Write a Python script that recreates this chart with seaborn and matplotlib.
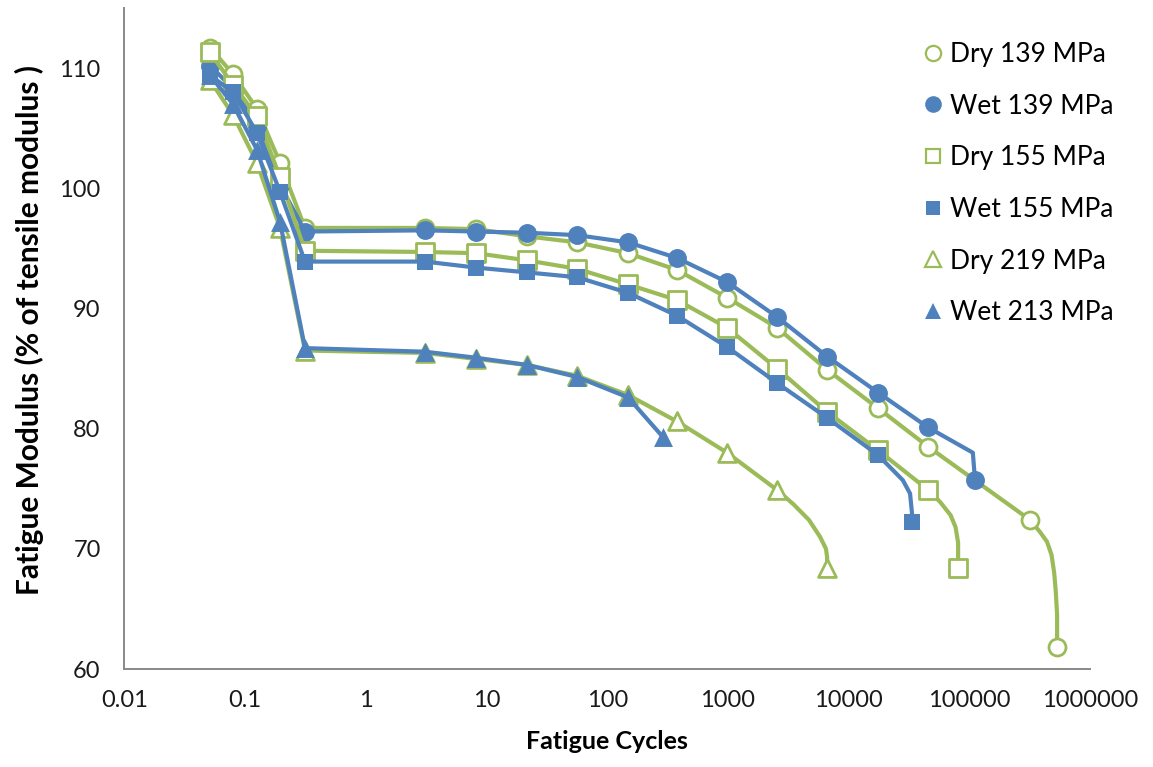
import matplotlib
matplotlib.use("Agg")
import matplotlib.pyplot as plt
import seaborn as sns
from matplotlib.lines import Line2D
from matplotlib.ticker import NullLocator, FixedLocator, FixedFormatter

# ---------------- data ----------------
x_ticks = [0.01, 0.1, 1, 10, 100, 1000, 10000, 100000, 1000000]
x_tick_labels = ["0.01", "0.1", "1", "10", "100", "1000", "10000", "100000", "1000000"]
y_ticks = [60, 70, 80, 90, 100, 110]

series_labels = ["Dry 139 MPa", "Wet 139 MPa", "Dry 155 MPa",
                 "Wet 155 MPa", "Dry 219 MPa", "Wet 213 MPa"]

# Dry 139 MPa
dry139_mx = [0.0513, 0.0796, 0.1257, 0.195, 0.314, 3.10, 8.2, 21.7, 56.3, 149, 379,
             984, 2555, 6640, 17550, 45600, 319000, 534000]
dry139_my = [111.7, 109.5, 106.6, 102.1, 96.7, 96.7, 96.6, 96.0, 95.5, 94.6, 93.2,
             90.9, 88.4, 84.9, 81.7, 78.5, 72.4, 61.8]
dry139_lx = [0.0513, 0.0796, 0.1257, 0.195, 0.314, 3.10, 8.2, 21.7, 56.3, 149, 379,
             984, 2555, 6640, 17550, 45600, 319000, 385000, 440000, 480000, 505000,
             520000, 534000, 534000]
dry139_ly = [111.7, 109.5, 106.6, 102.1, 96.7, 96.7, 96.6, 96.0, 95.5, 94.6, 93.2,
             90.9, 88.4, 84.9, 81.7, 78.5, 72.4, 71.4, 70.6, 69.5, 68.0, 66.5, 64.5, 61.8]

# Wet 139 MPa
wet139_mx = [0.0513, 0.0796, 0.1257, 0.195, 0.314, 3.10, 8.2, 21.7, 56.3, 149, 379,
             984, 2555, 6640, 17550, 45600, 111600]
wet139_my = [110.2, 108.3, 105.2, 100.3, 96.4, 96.5, 96.4, 96.3, 96.1, 95.5, 94.2,
             92.2, 89.3, 86.0, 83.0, 80.1, 75.7]
wet139_lx = [0.0513, 0.0796, 0.1257, 0.195, 0.314, 3.10, 8.2, 21.7, 56.3, 149, 379,
             984, 2555, 6640, 17550, 45600, 107000, 111600]
wet139_ly = [110.2, 108.3, 105.2, 100.3, 96.4, 96.5, 96.4, 96.3, 96.1, 95.5, 94.2,
             92.2, 89.3, 86.0, 83.0, 80.1, 78.0, 75.7]

# Dry 155 MPa
dry155_mx = [0.0513, 0.0796, 0.1257, 0.195, 0.314, 3.10, 8.2, 21.7, 56.3, 149, 379,
             984, 2555, 6640, 17550, 45600, 80800]
dry155_my = [111.3, 108.6, 106.0, 100.9, 94.8, 94.7, 94.6, 94.0, 93.3, 92.0, 90.7,
             88.4, 85.0, 81.4, 78.2, 74.9, 68.4]
dry155_lx = [0.0513, 0.0796, 0.1257, 0.195, 0.314, 3.10, 8.2, 21.7, 56.3, 149, 379,
             984, 2555, 6640, 17550, 45600, 57300, 70000, 77000, 80800, 80800]
dry155_ly = [111.3, 108.6, 106.0, 100.9, 94.8, 94.7, 94.6, 94.0, 93.3, 92.0, 90.7,
             88.4, 85.0, 81.4, 78.2, 74.9, 73.9, 72.8, 71.8, 70.5, 68.4]

# Wet 155 MPa
wet155_mx = [0.0513, 0.0796, 0.1257, 0.195, 0.314, 3.10, 8.2, 21.7, 56.3, 149, 379,
             984, 2555, 6640, 17550, 33500]
wet155_my = [109.4, 108.0, 104.6, 99.7, 93.9, 93.9, 93.4, 93.0, 92.6, 91.3, 89.4,
             86.8, 83.8, 80.9, 77.8, 72.2]
wet155_lx = [0.0513, 0.0796, 0.1257, 0.195, 0.314, 3.10, 8.2, 21.7, 56.3, 149, 379,
             984, 2555, 6640, 17550, 28200, 32300, 33500, 33500]
wet155_ly = [109.4, 108.0, 104.6, 99.7, 93.9, 93.9, 93.4, 93.0, 92.6, 91.3, 89.4,
             86.8, 83.8, 80.9, 77.8, 75.7, 74.6, 73.0, 72.2]

# Dry 219 MPa
dry219_mx = [0.0513, 0.0796, 0.1257, 0.195, 0.314, 3.10, 8.2, 21.7, 56.3, 149, 379,
             984, 2555, 6640]
dry219_my = [109.0, 106.1, 102.1, 96.7, 86.5, 86.3, 85.8, 85.3, 84.4, 82.8, 80.6,
             78.0, 74.9, 68.4]
dry219_lx = [0.0513, 0.0796, 0.1257, 0.195, 0.314, 3.10, 8.2, 21.7, 56.3, 149, 379,
             984, 2555, 3500, 4700, 5800, 6500, 6640, 6640]
dry219_ly = [109.0, 106.1, 102.1, 96.7, 86.5, 86.3, 85.8, 85.3, 84.4, 82.8, 80.6,
             78.0, 74.9, 73.7, 72.4, 71.0, 70.0, 69.3, 68.4]

# Wet 213 MPa
wet213_mx = [0.0513, 0.0796, 0.1257, 0.195, 0.314, 3.10, 8.2, 21.7, 56.3, 149, 290]
wet213_my = [109.4, 107.0, 103.2, 97.2, 86.7, 86.4, 85.9, 85.3, 84.3, 82.6, 79.3]
wet213_lx = wet213_mx
wet213_ly = wet213_my

# ---------------- style ----------------
GREEN = "#9BBB59"
BLUE = "#4F81BD"
AXIS_GREY = "#898989"
TEXT = "#1a1a1a"

sns.set_style("white")
plt.rcParams["font.family"] = ["Lato", "DejaVu Sans"]

fig = plt.figure(figsize=(11.53, 7.67), dpi=100)
ax = fig.add_axes([124.3 / 1153, 1 - 669 / 767, (1090 - 124.3) / 1153, (669 - 8) / 767])
ax.set_xscale("log")

series = [
    # label, line x, line y, marker x, marker y, marker, face, edge, size, edge lw, line colour
    (series_labels[0], dry139_lx, dry139_ly, dry139_mx, dry139_my, "o", "white", GREEN, 150, 2.0, GREEN),
    (series_labels[1], wet139_lx, wet139_ly, wet139_mx, wet139_my, "o", BLUE, BLUE, 185, 0.0, BLUE),
    (series_labels[2], dry155_lx, dry155_ly, dry155_mx, dry155_my, "s", "white", GREEN, 150, 2.0, GREEN),
    (series_labels[3], wet155_lx, wet155_ly, wet155_mx, wet155_my, "s", BLUE, BLUE, 135, 0.0, BLUE),
    (series_labels[4], dry219_lx, dry219_ly, dry219_mx, dry219_my, "^", "white", GREEN, 165, 2.0, GREEN),
    (series_labels[5], wet213_lx, wet213_ly, wet213_mx, wet213_my, "^", BLUE, BLUE, 185, 0.0, BLUE),
]

handles = []
for i, (lab, lx, ly, mx, my, mk, face, edge, s, elw, lc) in enumerate(series):
    z = 3 + i
    sns.lineplot(x=lx, y=ly, ax=ax, color=lc, linewidth=3.0, sort=False,
                 estimator=None, zorder=z, legend=False)
    sns.scatterplot(x=mx, y=my, ax=ax, marker=mk, s=s, color=face,
                    edgecolor=edge, linewidth=elw, zorder=z + 0.5, legend=False)
    if mk == "s":
        msize = 10.5 if elw else 10.0
    else:
        msize = 11.0 if elw else 12.0
    handles.append(Line2D([], [], linestyle="none", marker=mk, markersize=msize,
                          markerfacecolor=face, markeredgecolor=edge,
                          markeredgewidth=1.6 if elw else 0, label=lab))

ax.set_xlim(0.01, 1000000)
ax.set_ylim(60, 115)
ax.xaxis.set_major_locator(FixedLocator(x_ticks))
ax.xaxis.set_major_formatter(FixedFormatter(x_tick_labels))
ax.xaxis.set_minor_locator(NullLocator())
ax.yaxis.set_major_locator(FixedLocator(y_ticks))
ax.yaxis.set_minor_locator(NullLocator())

for side in ["top", "right"]:
    ax.spines[side].set_visible(False)
for side in ["left", "bottom"]:
    ax.spines[side].set_color(AXIS_GREY)
    ax.spines[side].set_linewidth(1.4)

ax.tick_params(axis="both", which="major", direction="out", length=5,
               width=1.4, color=AXIS_GREY, labelsize=17, labelcolor=TEXT)
ax.tick_params(axis="y", pad=12)
ax.tick_params(axis="x", pad=10)
ax.grid(False)

ax.set_xlabel("Fatigue Cycles", fontsize=18, fontweight="bold", color="black", labelpad=14)
ax.set_ylabel("Fatigue Modulus (% of tensile modulus )", fontsize=21.5,
              fontweight="bold", color="black")
ax.yaxis.set_label_coords(-0.083, (669 - 330) / 661)

leg = fig.legend(handles=handles, loc="upper left",
                 bbox_to_anchor=(924 / 1153, 1 - 42 / 767),
                 frameon=False, fontsize=19, handlelength=0.7, handletextpad=0.3,
                 labelspacing=1.01, borderpad=0, borderaxespad=0)
for t in leg.get_texts():
    t.set_color("black")

fig.savefig("out.png", dpi=100, facecolor="white")
